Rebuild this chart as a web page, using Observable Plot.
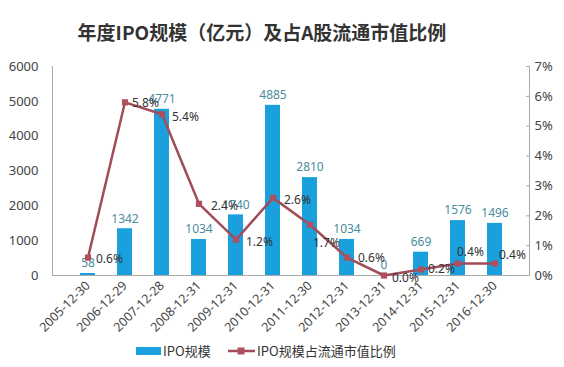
<!DOCTYPE html>
<html><head><meta charset="utf-8">
<script src="https://cdn.jsdelivr.net/npm/d3@7"></script>
<script src="https://cdn.jsdelivr.net/npm/@observablehq/plot@0.6"></script>
<style>
body{margin:0;background:#fff;font-family:"Noto Sans","Noto Sans CJK SC",sans-serif;width:564px;height:367px;overflow:hidden;position:relative}
#title{position:absolute;left:0;width:524px;text-align:center;top:19px;font-family:"Noto Sans CJK SC",sans-serif;font-weight:bold;font-size:19px;color:#333;line-height:26px}
#chart{position:absolute;left:0;top:55px}
#legend{position:absolute;top:340px;left:0;width:564px;height:22px;font-family:"Noto Sans CJK SC",sans-serif;font-size:13px;color:#333}
</style></head><body>
<div id="title">年度IPO规模（亿元）及占A股流通市值比例</div>
<div id="chart"></div>
<div id="legend"></div>
<script>
const dates = ["2005-12-30","2006-12-29","2007-12-28","2008-12-31","2009-12-31","2010-12-31","2011-12-30","2012-12-31","2013-12-31","2014-12-31","2015-12-31","2016-12-30"];
const ipoSize = [58,1342,4771,1034,1740,4885,2810,1034,0,669,1576,1496];
const ipoRatio = [0.6,5.8,5.4,2.4,1.2,2.6,1.7,0.6,0.0,0.2,0.4,0.4];
const leftTicks = [0,1000,2000,3000,4000,5000,6000];
const rightTicks = [0,1,2,3,4,5,6,7];
const seriesNames = ["IPO规模","IPO规模占流通市值比例"];

// label placement (layout only)
const labelOffset = {
  "2005-12-30":[8,2], "2006-12-29":[7,1], "2007-12-28":[10,3], "2008-12-31":[12,2],
  "2009-12-31":[10,2], "2010-12-31":[11,2], "2011-12-30":[3,18], "2012-12-31":[11,1],
  "2013-12-31":[8,3], "2014-12-31":[7,0], "2015-12-31":[-1,-11], "2016-12-30":[4,-8]
};

const barColor = "#1aa0dc", lineColor = "#a24c5a";
const yMax = 6000, rMax = 7;
const toLeft = p => p * yMax / rMax;
const data = dates.map((d,i)=>({date:d, size:ipoSize[i], ratio:ipoRatio[i], ry:toLeft(ipoRatio[i])}));

const pctLabels = data.map(d => Plot.text([d],{x:"date", y:"ry", text:r=>r.ratio.toFixed(1)+"%", textAnchor:"start",
  dx:labelOffset[d.date][0], dy:labelOffset[d.date][1], fill:"#333", fontSize:12}));

const plot = Plot.plot({
  width:564, height:285,
  marginLeft:52, marginRight:35, marginTop:11, marginBottom:65,
  style:{fontFamily:'"Noto Sans","Noto Sans CJK SC",sans-serif', fontSize:"12px", color:"#444", background:"transparent"},
  x:{domain:dates, padding:0.6, label:null},
  y:{domain:[0,yMax], label:null},
  marks:[
    Plot.frame({anchor:"left", stroke:"#aaa"}),
    Plot.frame({anchor:"right", stroke:"#aaa"}),
    Plot.ruleY([0],{stroke:"#aaa"}),
    Plot.axisY(leftTicks,{anchor:"left", tickSize:0, tickPadding:14, fontSize:13, fill:"#444", tickFormat:d=>String(d)}),
    Plot.axisY(rightTicks.map(toLeft),{anchor:"right", tickSize:0, tickPadding:5, fontSize:13, fill:"#444", tickFormat:(d,i)=>rightTicks[i]+"%"}),
    Plot.axisY(rightTicks.map(toLeft),{anchor:"right", tickSize:-4, text:null, stroke:"#aaa"}),
    Plot.axisX({tickRotate:-45, tickSize:0, tickPadding:8, fontSize:12.5, fill:"#444"}),
    Plot.barY(data,{x:"date", y:"size", fill:barColor}),
    Plot.text(data,{x:"date", y:"size", text:d=>String(d.size), dy:-10, fill:"#4a8c9e", fontSize:12}),
    Plot.line(data,{x:"date", y:"ry", stroke:lineColor, strokeWidth:2.5}),
    Plot.dot(data,{x:"date", y:"ry", symbol:"square", r:3.5, fill:"#b0505e", stroke:"none"}),
    ...pctLabels
  ]
});
document.getElementById("chart").append(plot);

const lg = document.getElementById("legend");
lg.innerHTML = `
<svg width="564" height="22" style="position:absolute;left:0;top:0">
  <rect x="136" y="7" width="25" height="8" fill="${barColor}"/>
  <text x="163" y="16" font-size="13" fill="#333">${seriesNames[0]}</text>
  <line x1="228" y1="11" x2="255" y2="11" stroke="${lineColor}" stroke-width="2.5"/>
  <rect x="237.5" y="7.5" width="7" height="7" fill="#b0505e"/>
  <text x="257" y="16" font-size="13" fill="#333">${seriesNames[1]}</text>
</svg>`;
</script>
</body></html>
